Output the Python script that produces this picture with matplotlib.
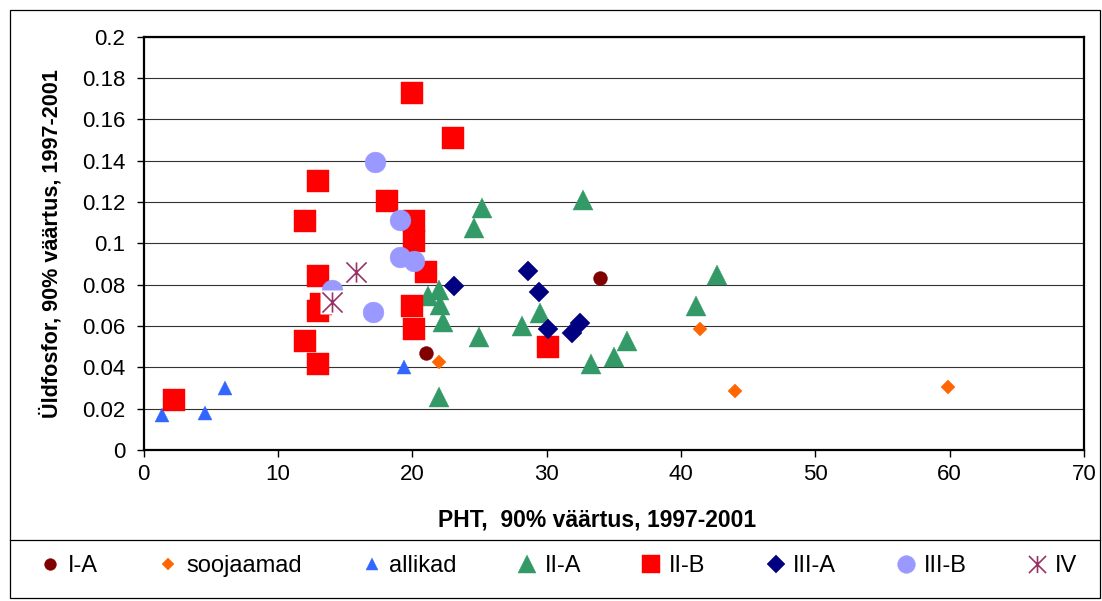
import matplotlib
matplotlib.use("Agg")
import matplotlib.pyplot as plt
from matplotlib.path import Path
from matplotlib.patches import Rectangle
from matplotlib.lines import Line2D

plt.rcParams['font.family'] = ['Liberation Sans', 'DejaVu Sans']

# PHT (x) and total phosphorus (y), 90% values 1997-2001, by lake type
ia_x = [21.0, 34.0]
ia_y = [0.047, 0.083]

soo_x = [22.0, 41.4, 44.0, 59.9]
soo_y = [0.0425, 0.0586, 0.0286, 0.0304]

all_x = [1.4, 4.6, 6.1, 19.4]
all_y = [0.017, 0.018, 0.030, 0.040]

iia_x = [22.0, 25.0, 28.2, 29.5, 33.3, 35.0, 36.0, 41.1, 42.7,
         21.2, 22.0, 22.1, 22.3, 25.2, 24.6, 32.7]
iia_y = [0.0257, 0.0549, 0.0602, 0.0662, 0.0415, 0.0452, 0.0529, 0.0697, 0.0847,
         0.0747, 0.0775, 0.0702, 0.0621, 0.1169, 0.1073, 0.1208]

iib_x = [2.3, 12.0, 13.0, 12.0, 13.0, 13.0, 13.2, 13.0, 20.0, 23.0,
         18.1, 20.1, 20.1, 21.0, 20.0, 20.1, 30.1]
iib_y = [0.024, 0.1106, 0.1303, 0.0529, 0.0416, 0.0841, 0.0707, 0.0673, 0.1727, 0.151,
         0.1207, 0.1106, 0.1009, 0.086, 0.0699, 0.0586, 0.050]

iiia_x = [23.1, 28.6, 29.4, 30.1, 31.9, 32.5]
iiia_y = [0.0794, 0.0868, 0.0765, 0.0586, 0.0565, 0.0613]

iiib_x = [17.2, 19.1, 19.1, 20.1, 14.0, 17.1]
iiib_y = [0.1396, 0.1114, 0.0936, 0.0917, 0.0776, 0.067]

iv_x = [15.8, 14.0]
iv_y = [0.086, 0.0718]

x_ticks = [0, 10, 20, 30, 40, 50, 60, 70]
y_ticks = [0, 0.02, 0.04, 0.06, 0.08, 0.1, 0.12, 0.14, 0.16, 0.18, 0.2]

x_label = "PHT,  90% väärtus, 1997-2001"
y_label = "Üldfosfor, 90% väärtus, 1997-2001"

# six-armed asterisk: vertical bar plus a diagonal cross
star = Path([(0, -1), (0, 1), (-1, -1), (1, 1), (-1, 1), (1, -1)],
            [Path.MOVETO, Path.LINETO, Path.MOVETO, Path.LINETO, Path.MOVETO, Path.LINETO])

W, H = 1102, 601
fig = plt.figure(figsize=(W / 100, H / 100), dpi=100)
ax = fig.add_axes([143.5 / W, 1 - 450 / H, (1084 - 143.5) / W, (450 - 36.7) / H])

series = [
    ("I-A", ia_x, ia_y, 'o', '#800000', 10),
    ("soojaamad", soo_x, soo_y, 'D', '#FF6600', 7),
    ("allikad", all_x, all_y, '^', '#3366FF', 9.4),
    ("II-A", iia_x, iia_y, '^', '#339966', 15),
    ("II-B", iib_x, iib_y, 's', '#FF0000', 15.5),
    ("III-A", iiia_x, iiia_y, 'D', '#000080', 10.5),
    ("III-B", iiib_x, iiib_y, 'o', '#9999FF', 15),
]
handles = []
for i, (name, xs, ys, m, c, s) in enumerate(series):
    h, = ax.plot(xs, ys, linestyle='none', marker=m, markersize=s,
                 markerfacecolor=c, markeredgecolor=c, markeredgewidth=0.3,
                 label=name, zorder=3 + i * 0.01)
    handles.append(h)

# asterisk markers sit on a white backing square
ax.plot(iv_x, iv_y, linestyle='none', marker='s', markersize=17.5,
        markerfacecolor='white', markeredgecolor='none', zorder=3.5)
h_iv, = ax.plot(iv_x, iv_y, linestyle='none', marker=star, markersize=14.5,
                markerfacecolor='none', markeredgecolor='#993366',
                markeredgewidth=1.2, label="IV", zorder=3.6)
handles.append(h_iv)

ax.set_xlim(0, 70)
ax.set_ylim(0, 0.2)
ax.set_xticks(x_ticks)
ax.set_yticks(y_ticks)
ax.set_xticklabels([f"{v:g}" for v in x_ticks])
ax.set_yticklabels([f"{v:g}" for v in y_ticks])
ax.tick_params(axis='both', direction='out', length=5, width=1, color='black',
               labelsize=16, labelcolor='black')
ax.tick_params(axis='y', pad=8)
ax.tick_params(axis='x', pad=5)

ax.set_axisbelow(True)
ax.yaxis.grid(True, color='#333333', linewidth=0.8)
ax.xaxis.grid(False)
for sp in ax.spines.values():
    sp.set_linewidth(1.6)
    sp.set_color('black')

ax.set_xlabel(x_label, fontsize=16.5, fontweight='bold')
ax.xaxis.set_label_coords((597 - 143.5) / (1084 - 143.5), -(520 - 450) / (450 - 36.7))
ax.set_ylabel(y_label, fontsize=15.6, fontweight='bold')
ax.yaxis.set_label_coords(-(143.5 - 51) / (1084 - 143.5), 0.5)
ax.xaxis.label.set_va('center')
ax.yaxis.label.set_va('center')

# outer chart frame and legend box
fig.patches.append(Rectangle((9.5 / W, 1 - 597.5 / H), (1100 - 9.5) / W, (597.5 - 10) / H,
                             transform=fig.transFigure, fill=False,
                             edgecolor='black', linewidth=0.9))
fig.add_artist(Line2D([9.5 / W, 1100 / W], [1 - 539.5 / H, 1 - 539.5 / H],
                      transform=fig.transFigure, color='black', linewidth=0.9))

fig.legend(handles=handles, loc='center', bbox_to_anchor=(559 / W, 1 - 566 / H),
           ncol=8, frameon=False, fontsize=17, markerscale=0.85,
           handlelength=0.8, handletextpad=0.35, columnspacing=2.57,
           borderaxespad=0)

fig.savefig("out.png", dpi=100)
